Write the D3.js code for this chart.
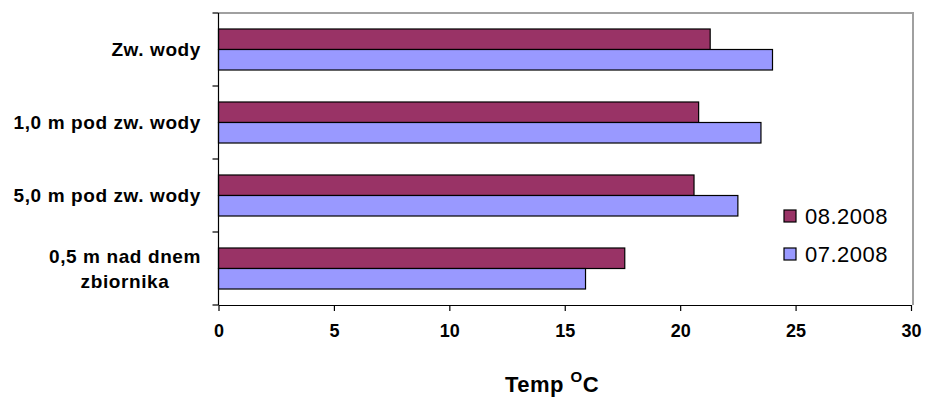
<!DOCTYPE html>
<html lang="pl">
<head>
<meta charset="UTF-8">
<title>Temp</title>
<script src="https://cdn.jsdelivr.net/npm/d3@7"></script>
<style>
  body { margin: 0; background: #fff; }
  svg { display: block; font-family: Arial, "Liberation Sans", sans-serif; }
</style>
</head>
<body>
<svg width="926" height="397"></svg>
<script>
// categories from top to bottom
var categories = [
    ["Zw. wody"],
    ["1,0 m pod zw. wody"],
    ["5,0 m pod zw. wody"],
    ["0,5 m nad dnem", "zbiornika"]
];
var seriesNames = ["08.2008", "07.2008"];
var aug2008 = [21.3, 20.8, 20.6, 17.6];
var jul2008 = [24.0, 23.5, 22.5, 15.9];
var xTicks = [0, 5, 10, 15, 20, 25, 30];
var colors = ["#993366", "#9999ff"];

var svg = d3.select("svg");
var plotLeft = 218.5, plotRight = 911, plotTop = 13, plotBottom = 305;

var x = d3.scaleLinear().domain([0, 30]).range([plotLeft, plotRight]);
var y = d3.scaleBand().domain(d3.range(categories.length)).range([plotTop, plotBottom]);
var inner = d3.scaleBand().domain(seriesNames).range([0, y.bandwidth()]).paddingOuter(0.78);

// frame on top and right
svg.append("path")
    .attr("d", "M" + plotLeft + "," + plotTop + "H" + (plotRight + 2) + "V" + plotBottom)
    .attr("fill", "none").attr("stroke", "#a0a0a0").attr("stroke-width", 2);

var series = [aug2008, jul2008];
series.forEach(function (vals, s) {
    svg.append("g").selectAll("rect")
        .data(vals)
        .join("rect")
        .attr("x", x(0))
        .attr("y", function (d, i) { return y(i) + inner(seriesNames[s]); })
        .attr("width", function (d) { return x(d) - x(0); })
        .attr("height", inner.bandwidth())
        .attr("fill", colors[s])
        .attr("stroke", "#000")
        .attr("stroke-width", 1.2);
});

// x axis
var xAxis = svg.append("g")
    .attr("transform", "translate(0," + plotBottom + ")")
    .call(d3.axisBottom(x).tickValues(xTicks).tickSize(6).tickSizeOuter(0).tickPadding(13));
xAxis.select(".domain").attr("stroke", "#000").attr("stroke-width", 1.2);
xAxis.selectAll(".tick line").attr("stroke", "#000").attr("stroke-width", 1.2);
xAxis.selectAll("text")
    .attr("font-size", 18).attr("font-weight", "bold").attr("fill", "#000")
    .attr("font-family", "Arial, 'Liberation Sans', sans-serif");

// y axis line and boundary ticks
svg.append("line")
    .attr("x1", plotLeft).attr("x2", plotLeft).attr("y1", plotTop).attr("y2", plotBottom)
    .attr("stroke", "#000").attr("stroke-width", 1.2);
var bounds = d3.range(categories.length + 1).map(function (i) {
    return i < categories.length ? y(i) : plotBottom;
});
svg.append("g").selectAll("line")
    .data(bounds)
    .join("line")
    .attr("x1", plotLeft - 6).attr("x2", plotLeft)
    .attr("y1", function (d) { return d; }).attr("y2", function (d) { return d; })
    .attr("stroke", "#000").attr("stroke-width", 1.2);

// category labels
var labelRight = 201;
var lineH = 25;
categories.forEach(function (lines, i) {
    var cy = y(i) + y.bandwidth() / 2;
    var g = svg.append("g");
    var texts = lines.map(function (t, k) {
        return g.append("text")
            .attr("y", cy + (k - (lines.length - 1) / 2) * lineH)
            .attr("dy", "0.36em")
            .attr("font-size", 19).attr("font-weight", "bold")
            .style("letter-spacing", "0.6px")
            .text(t);
    });
    var widths = texts.map(function (t) { return t.node().getComputedTextLength(); });
    var maxW = d3.max(widths);
    var center = labelRight - maxW / 2;
    texts.forEach(function (t) {
        t.attr("x", center).attr("text-anchor", "middle");
    });
});

// axis title
var title = svg.append("text")
    .attr("x", 552).attr("y", 392)
    .attr("text-anchor", "middle")
    .attr("font-size", 22).attr("font-weight", "bold")
    .style("letter-spacing", "0.5px");
title.append("tspan").text("Temp ");
title.append("tspan").attr("font-size", 15).attr("dy", -10).text("O");
title.append("tspan").attr("dy", 10).text("C");

// legend
var legend = svg.append("g").selectAll("g")
    .data(seriesNames)
    .join("g")
    .attr("transform", function (d, i) { return "translate(784," + (210 + i * 38) + ")"; });
legend.append("rect")
    .attr("width", 12).attr("height", 12)
    .attr("fill", function (d, i) { return colors[i]; })
    .attr("stroke", "#000").attr("stroke-width", 1.2);
legend.append("text")
    .attr("x", 21).attr("y", 13.5)
    .attr("font-size", 22)
    .style("letter-spacing", "0.5px")
    .text(function (d) { return d; });
</script>
</body>
</html>
